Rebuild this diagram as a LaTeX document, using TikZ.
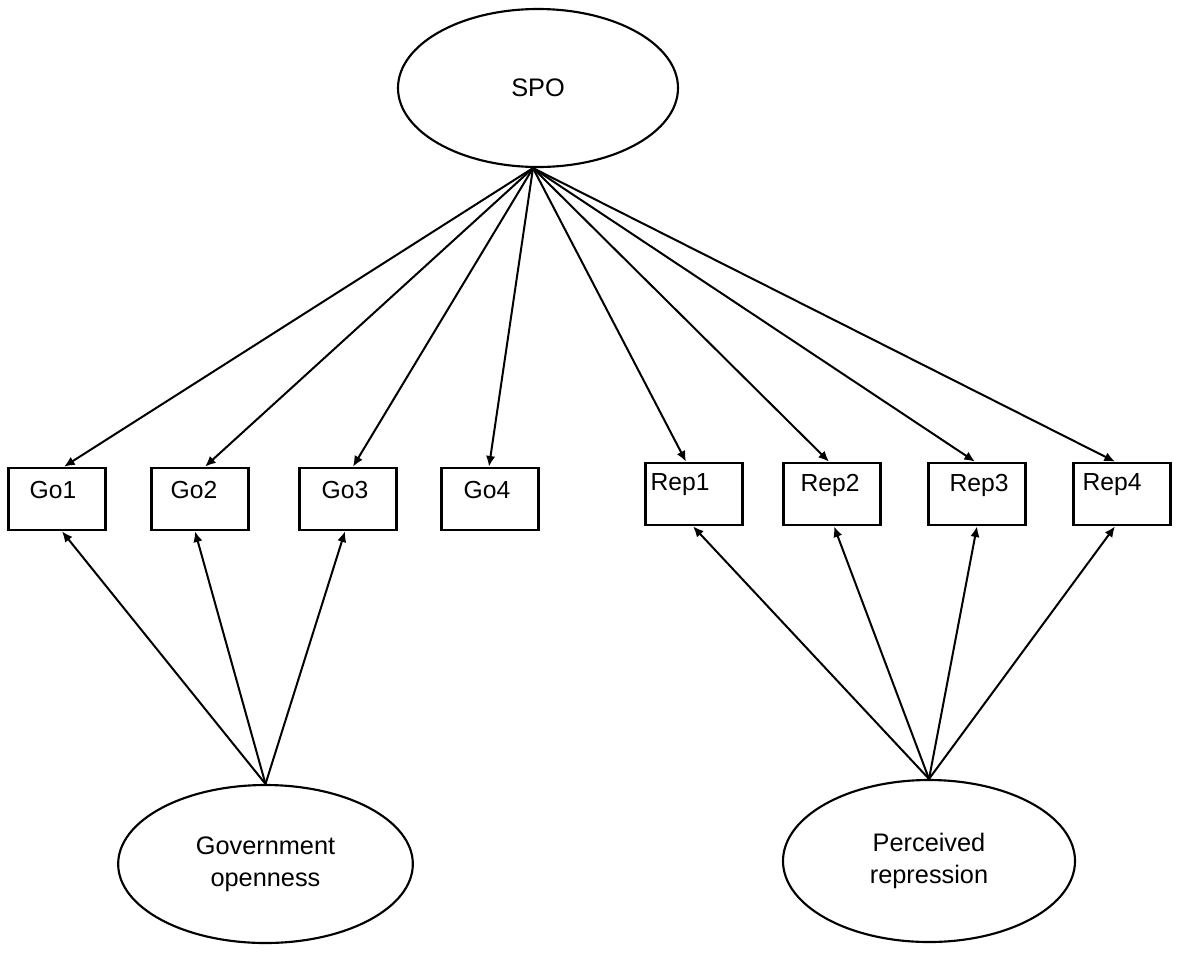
\documentclass[tikz,border=0pt]{standalone}
\usepackage{fontspec}
\setmainfont{Liberation Sans}
\usetikzlibrary{arrows.meta,shapes.geometric,calc}

\begin{document}
\begin{tikzpicture}[x=0.75pt,y=-0.75pt,
        latent/.style={draw,ellipse,line width=1.6pt,inner sep=0pt,align=center,font=\fontsize{19}{24}\selectfont},
        manifest/.style={draw,rectangle,line width=2pt,minimum width=73pt,minimum height=46.5pt,inner sep=0pt},
        lbl/.style={font=\fontsize{18.5}{24}\selectfont,inner sep=0pt},
        load/.style={line width=1.5pt,-{Latex[length=8pt,width=7pt]}}]
    \useasboundingbox (0,0) rectangle (1181,954);

    \node[latent,minimum width=210pt,minimum height=118.5pt] (spo) at (538,88) {SPO};
    \node[latent,minimum width=221pt,minimum height=118.5pt] (gov) at (265.5,864) {Government\\openness};
    \node[latent,minimum width=219pt,minimum height=121.5pt] (perc) at (929,861) {Perceived\\repression};

    \foreach \n/\l/\x/\y/\t/\a in {go1/Go1/57/499/-4/7, go2/Go2/200/499/-6/5, go3/Go3/348/499/-3/5, go4/Go4/490/499/-3/-1,
            rep1/Rep1/694/494/-14/-8, rep2/Rep2/832/494/-2/-3, rep3/Rep3/977/494/2/-2, rep4/Rep4/1122/494/-10/-7} {
        \node[manifest] (\n) at (\x,\y) {};
        \node[lbl] (\n-t) at ($(\n)+(\t,-9)$) {\l};
        \draw[load] ($(spo.south)+(-5,0)$) -- ($(\n.north)+(\a,0)$);
    }

    \foreach \n/\b in {go1/5, go2/-5, go3/-3} {
        \draw[load] (gov.north) -- ($(\n.south)+(\b,0)$);
    }

    \foreach \n/\b in {rep1/-1, rep2/2, rep3/0, rep4/-7} {
        \draw[load] (perc.north) -- ($(\n.south)+(\b,0)$);
    }
\end{tikzpicture}
\end{document}
